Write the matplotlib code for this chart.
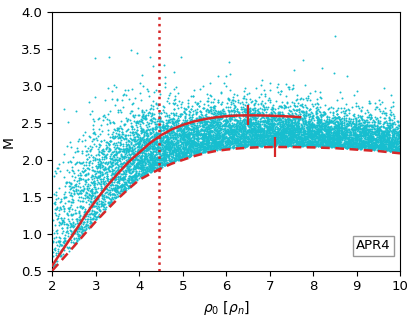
import numpy as np
import matplotlib
matplotlib.use("Agg")
import matplotlib.pyplot as plt
from matplotlib.offsetbox import AnchoredText

# ---- curves ----
solid_x = [2.0, 2.25, 2.5, 2.75, 3.0, 3.25, 3.5, 3.75, 4.0, 4.25, 4.5, 4.75, 5.0,
           5.25, 5.5, 5.75, 6.0, 6.25, 6.5, 6.75, 7.0, 7.25, 7.5, 7.7]
solid_y = [0.57, 0.79, 1.01, 1.24, 1.45, 1.64, 1.81, 1.97, 2.10, 2.23, 2.335, 2.415, 2.475,
           2.52, 2.553, 2.577, 2.593, 2.602, 2.605, 2.604, 2.600, 2.595, 2.588, 2.58]
dash_x = [2.0, 2.25, 2.5, 2.75, 3.0, 3.25, 3.5, 3.75, 4.0, 4.25, 4.5, 4.75, 5.0, 5.25,
          5.5, 5.75, 6.0, 6.25, 6.5, 6.75, 7.0, 7.5, 8.0, 8.5, 9.0, 9.5, 10.0]
dash_y = [0.50, 0.665, 0.83, 1.00, 1.165, 1.32, 1.47, 1.605, 1.73, 1.81, 1.885, 1.95, 2.00, 2.05,
          2.09, 2.12, 2.14, 2.155, 2.165, 2.172, 2.175, 2.175, 2.17, 2.16, 2.14, 2.12, 2.09]
peak_solid = (6.5, 2.605)
peak_dash = (7.13, 2.175)
vline_x = 4.45

# ---- scatter cloud envelope ----
env_x = [2.0, 2.5, 3.0, 3.5, 4.0, 4.5, 5.0, 6.0, 7.0, 8.0, 9.0, 10.0]
env_density = [0.25, 0.42, 0.6, 0.8, 0.95, 1.0, 1.0, 1.0, 1.0, 0.95, 0.9, 0.85]
env_band = [0.85, 0.95, 0.9, 0.78, 0.64, 0.52, 0.46, 0.42, 0.38, 0.34, 0.31, 0.29]
env_tail = [0.35, 0.33, 0.3, 0.27, 0.24, 0.21, 0.19, 0.17, 0.16, 0.15, 0.14, 0.14]
env_tailfrac = [0.15, 0.15, 0.14, 0.13, 0.12, 0.11, 0.1, 0.1, 0.1, 0.1, 0.1, 0.1]
n_points = 9500

rng = np.random.default_rng(11)
xs = rng.uniform(2.0, 10.0, n_points * 2)
keep = rng.uniform(0, 1, xs.size) < np.interp(xs, env_x, env_density)
xs = xs[keep][:n_points]
low = np.interp(xs, dash_x, dash_y)
band = np.interp(xs, env_x, env_band)
tail = np.interp(xs, env_x, env_tail)
tfrac = np.interp(xs, env_x, env_tailfrac)
core = np.abs(rng.normal(0, 1, xs.size)) * band * 0.65
is_tail = rng.uniform(0, 1, xs.size) < tfrac
off = np.where(is_tail, band * rng.uniform(0.4, 0.9, xs.size)
               + rng.exponential(1, xs.size) * tail, core)
ys = low + 0.015 + off

cyan = "#17becf"
red = "#d62728"

fig = plt.figure(figsize=(4.16, 3.16), dpi=100)
ax = fig.add_axes([0.1257, 0.1437, 0.836, 0.817])
ax.scatter(xs, ys, s=2.0, color=cyan, linewidths=0, zorder=1)
ax.plot(solid_x, solid_y, color=red, lw=1.8, zorder=3)
ax.plot(dash_x, dash_y, color=red, lw=1.8, ls=(0, (3.5, 2.2)), zorder=3)
ax.plot([peak_solid[0]], [peak_solid[1]], marker="|", ms=14, mew=1.6, color=red, zorder=4)
ax.plot([peak_dash[0]], [peak_dash[1]], marker="|", ms=14, mew=1.6, color=red, zorder=4)
ax.axvline(vline_x, color=red, ls=":", lw=1.8, zorder=2)

ax.set_xlim(2, 10)
ax.set_ylim(0.5, 4.0)
ax.set_xticks([2, 3, 4, 5, 6, 7, 8, 9, 10])
ax.set_yticks([0.5, 1.0, 1.5, 2.0, 2.5, 3.0, 3.5, 4.0])
ax.tick_params(labelsize=9.5)
ax.set_xlabel(r"$\rho_0$ [$\rho_n$]", fontsize=10)
ax.set_ylabel("M", fontsize=10)

at = AnchoredText("APR4", loc="lower right", prop=dict(size=9.5), frameon=True,
                  borderpad=0, pad=0.25, bbox_to_anchor=(0.983, 0.058),
                  bbox_transform=ax.transAxes)
at.patch.set_edgecolor("#999999")
at.patch.set_boxstyle("square,pad=0")
ax.add_artist(at)

fig.savefig("out.png", dpi=100)
